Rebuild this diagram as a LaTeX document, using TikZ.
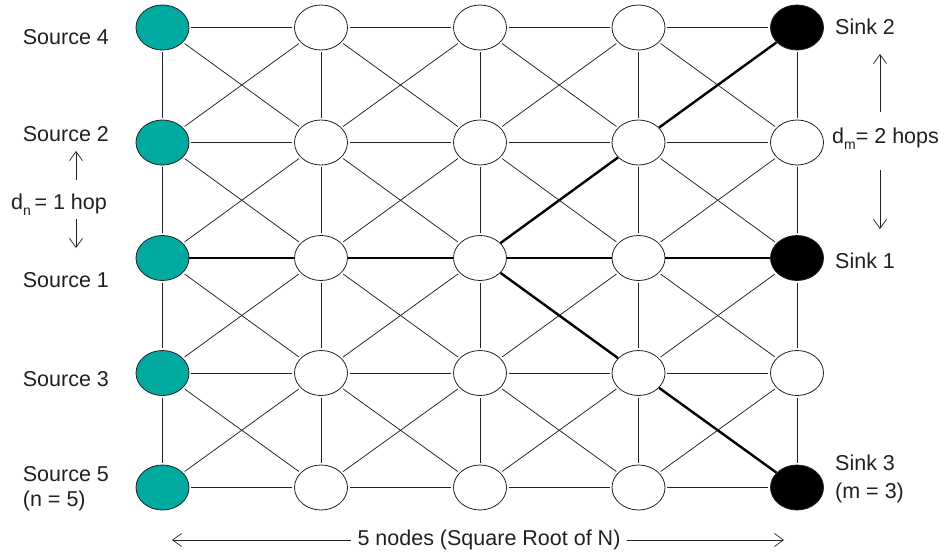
\documentclass[tikz,border=0pt]{standalone}
\usepackage{fontspec}
\setmainfont{Liberation Sans}
\usetikzlibrary{arrows.meta,shapes.geometric}
\definecolor{srcteal}{RGB}{0,170,160}
\definecolor{inkgray}{RGB}{35,31,32}
\begin{document}
\begin{tikzpicture}[x=1pt,y=-1pt,
  gnode/.style={ellipse,draw=inkgray,line width=0.8pt,minimum width=53pt,minimum height=45pt,inner sep=0pt},
  wnode/.style={gnode,fill=white},
  tnode/.style={gnode,fill=srcteal},
  bnode/.style={gnode,fill=black},
  edge/.style={draw=inkgray,line width=0.75pt,shorten <=2pt,shorten >=2pt},
  pathedge/.style={draw=black,line width=2.4pt},
  lbl/.style={anchor=base west,inner sep=0pt,text=inkgray,font=\fontsize{21.5}{25}\selectfont},
  harrow/.style={draw=inkgray,line width=0.7pt,-{Straight Barb[length=9pt,width=13pt]}}
]
\useasboundingbox (0,0) rectangle (944,559);
% nodes
\foreach \j/\y in {1/27.5,2/142.5,3/258,4/373,5/487.5}{
  \node[tnode] (n-1-\j) at (162.5,\y) {};
  \node[wnode] (n-2-\j) at (321,\y) {};
  \node[wnode] (n-3-\j) at (480,\y) {};
  \node[wnode] (n-4-\j) at (638.5,\y) {};
}
\node[bnode] (n-5-1) at (797,27.5) {};
\node[wnode] (n-5-2) at (797,142.5) {};
\node[bnode] (n-5-3) at (797,258) {};
\node[wnode] (n-5-4) at (797,373) {};
\node[bnode] (n-5-5) at (797,487.5) {};
% grid edges
\foreach \i in {1,...,4}{
  \pgfmathtruncatemacro{\k}{\i+1}
  \foreach \j in {1,...,5}{
    \draw[edge] (n-\i-\j) -- (n-\k-\j);
    \draw[edge] (n-\j-\i) -- (n-\j-\k);
  }
  \foreach \j in {1,...,4}{
    \pgfmathtruncatemacro{\l}{\j+1}
    \draw[edge] (n-\i-\j) -- (n-\k-\l);
    \draw[edge] (n-\k-\j) -- (n-\i-\l);
  }
}
% paths
\draw[pathedge] (n-1-3) -- (n-2-3);
\draw[pathedge] (n-2-3) -- (n-3-3);
\draw[pathedge] (n-3-3) -- (n-4-3);
\draw[pathedge] (n-4-3) -- (n-5-3);
\draw[pathedge] (n-3-3) -- (n-4-2);
\draw[pathedge] (n-4-2) -- (n-5-1);
\draw[pathedge] (n-3-3) -- (n-4-4);
\draw[pathedge] (n-4-4) -- (n-5-5);
% left labels
\node[lbl] (s4) at (22.7,44.3) {Source 4};
\node[lbl] (s2) at (22.7,141.7) {Source 2};
\node[lbl] (dn) at (11,209) {d\raisebox{-0.32em}{\fontsize{14}{14}\selectfont n}\,= 1 hop};
\node[lbl] (s1) at (22.7,287) {Source 1};
\node[lbl] (s3) at (22.7,386) {Source 3};
\node[lbl] (s5) at (22.7,481) {Source 5};
\node[lbl] (n5) at (22.7,506) {(n = 5)};
\coordinate (dnu1) at (76,180);
\coordinate (dnu2) at (76,151);
\coordinate (dnd1) at (76,219);
\coordinate (dnd2) at (76,248);
\draw[harrow] (dnu1) -- (dnu2);
\draw[harrow] (dnd1) -- (dnd2);
% right labels
\node[lbl] (k2) at (835,34.3) {Sink 2};
\node[lbl] (dm) at (832,143) {d\raisebox{-0.32em}{\fontsize{14}{14}\selectfont m}= 2 hops};
\node[lbl] (k1) at (835,268) {Sink 1};
\node[lbl] (k3) at (835,470) {Sink 3};
\node[lbl] (m3) at (835,498) {(m = 3)};
\coordinate (dmu1) at (880,112);
\coordinate (dmu2) at (880,54);
\coordinate (dmd1) at (880,170);
\coordinate (dmd2) at (880,229);
\draw[harrow] (dmu1) -- (dmu2);
\draw[harrow] (dmd1) -- (dmd2);
% bottom
\node[anchor=center,inner sep=0pt,text=inkgray,font=\fontsize{21.5}{25}\selectfont] (bt) at (489,540) {5 nodes (Square Root of N)};
\coordinate (bl) at (172,540);
\coordinate (br) at (784,540);
\draw[harrow] ([xshift=-6pt]bt.west |- bl) -- (bl);
\draw[harrow] ([xshift=6pt]bt.east |- br) -- (br);
\end{tikzpicture}
\end{document}
